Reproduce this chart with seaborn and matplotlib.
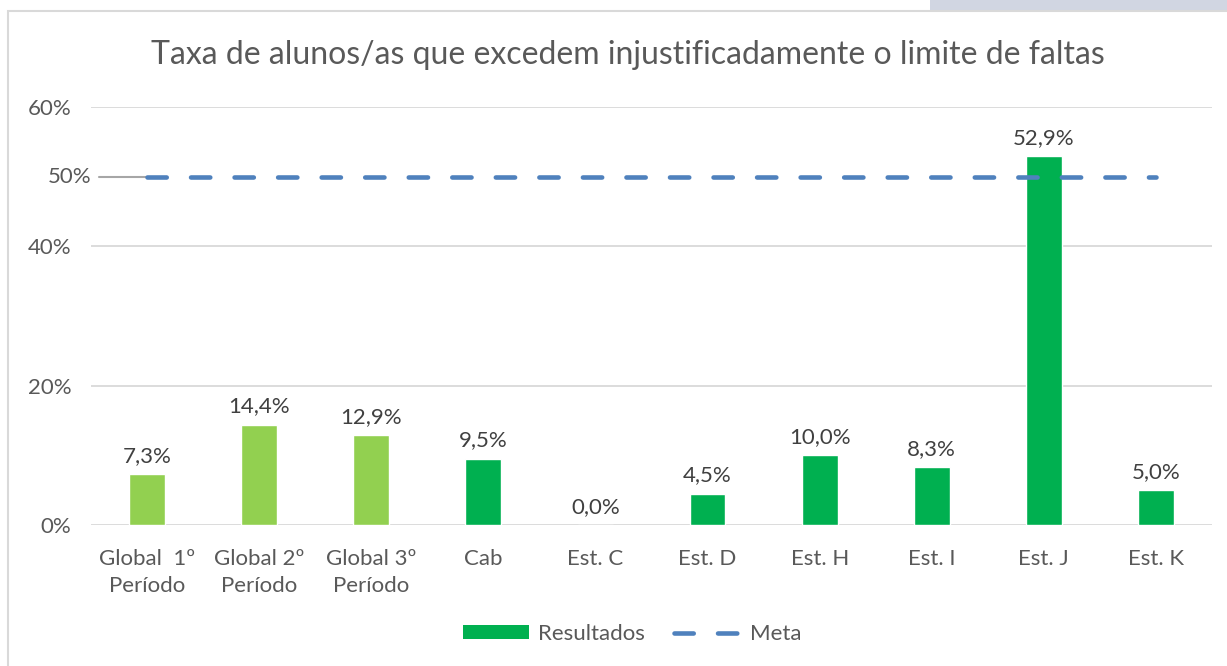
import pandas as pd
import matplotlib.pyplot as plt
import seaborn as sns
from matplotlib.patches import Patch, Rectangle
from matplotlib.lines import Line2D

# Dados do gráfico
categorias = ["Global  1º\nPeríodo", "Global 2º\nPeríodo", "Global 3º\nPeríodo",
              "Cab", "Est. C", "Est. D", "Est. H", "Est. I", "Est. J", "Est. K"]
resultados = [7.3, 14.4, 12.9, 9.5, 0.0, 4.5, 10.0, 8.3, 52.9, 5.0]
meta = [50, 50, 50, 50, 50, 50, 50, 50, 50, 50]
grupos = ["Global", "Global", "Global", "Escola", "Escola",
          "Escola", "Escola", "Escola", "Escola", "Escola"]
yticks = [0, 20, 40, 60]

df = pd.DataFrame({"categoria": categorias, "valor": resultados,
                   "grupo": grupos, "meta": meta})

sns.set_theme(style="white")
plt.rcParams['font.family'] = ['Lato', 'DejaVu Sans']

verde_claro = "#92D050"
verde = "#00B050"
azul = "#4F81BD"
cinza_txt = "#595959"
fs = 16

fig = plt.figure(figsize=(12.27, 6.66), dpi=100)

# moldura e faixa de fundo
fig.patches.append(Rectangle((930 / 1227, 655 / 666), 297 / 1227, 11 / 666,
                             transform=fig.transFigure, facecolor="#D1D6E2",
                             edgecolor="none", zorder=-2))
fig.patches.append(Rectangle((8 / 1227, -0.01), 1.0, 655 / 666 + 0.01,
                             transform=fig.transFigure, facecolor="white",
                             edgecolor="#D9D9D9", lw=1.5, zorder=-1))

ax = fig.add_axes([91 / 1227, 141 / 666, 1121 / 1227, 418 / 666])
ax.set_facecolor("none")

sns.barplot(data=df, x="categoria", y="valor", hue="grupo",
            palette={"Global": verde_claro, "Escola": verde}, saturation=1,
            width=0.32, dodge=False, legend=False, ax=ax, zorder=3)

# linha da meta
x = list(range(len(categorias)))
ax.plot(x, df["meta"], color=azul, lw=3.3, ls=(0, (4.2, 5.3)),
        dash_capstyle="round", zorder=4)
ax.plot([-0.43, 0], [meta[0], meta[0]], color="#A6A6A6", lw=1.5, zorder=2)
ax.text(-0.5, meta[0], f"{meta[0]}%", ha="right", va="center",
        fontsize=fs, color=cinza_txt)

# rótulos de dados
for i, v in enumerate(resultados):
    ax.text(i, v + 1.2, f"{v:.1f}%".replace(".", ","), ha="center", va="bottom",
            fontsize=fs, color="#404040", zorder=5)

ax.set_ylim(0, 60)
ax.set_xlim(-0.5, len(categorias) - 0.5)
ax.set_yticks(yticks)
ax.set_yticklabels([f"{t}%" for t in yticks])
ax.yaxis.grid(True, color="#D9D9D9", lw=1.3, zorder=0)
ax.set_axisbelow(True)
ax.tick_params(axis="y", length=0, pad=14, labelsize=fs, labelcolor=cinza_txt)
ax.tick_params(axis="x", length=0, pad=17, labelsize=fs, labelcolor=cinza_txt)
for lab in ax.get_xticklabels():
    lab.set_linespacing(1.45)
sns.despine(ax=ax, left=True, bottom=True)
ax.set_xlabel("")
ax.set_ylabel("")

fig.text(628 / 1227, 1 - 55 / 666,
         "Taxa de alunos/as que excedem injustificadamente o limite de faltas",
         ha="center", va="center", fontsize=23, color=cinza_txt)

handles = [Patch(facecolor=verde, edgecolor="none", label="Resultados"),
           Line2D([0], [0], color=azul, lw=3.3, ls=(0, (4.2, 5.3)),
                  dash_capstyle="round", label="Meta")]
fig.legend(handles=handles, loc="center", bbox_to_anchor=(632 / 1227, 1 - 634 / 666),
           ncol=2, frameon=False, fontsize=fs, handlelength=3.0, handleheight=0.6,
           columnspacing=1.3, handletextpad=0.4, labelcolor=cinza_txt)

fig.savefig("out.png", dpi=100)
